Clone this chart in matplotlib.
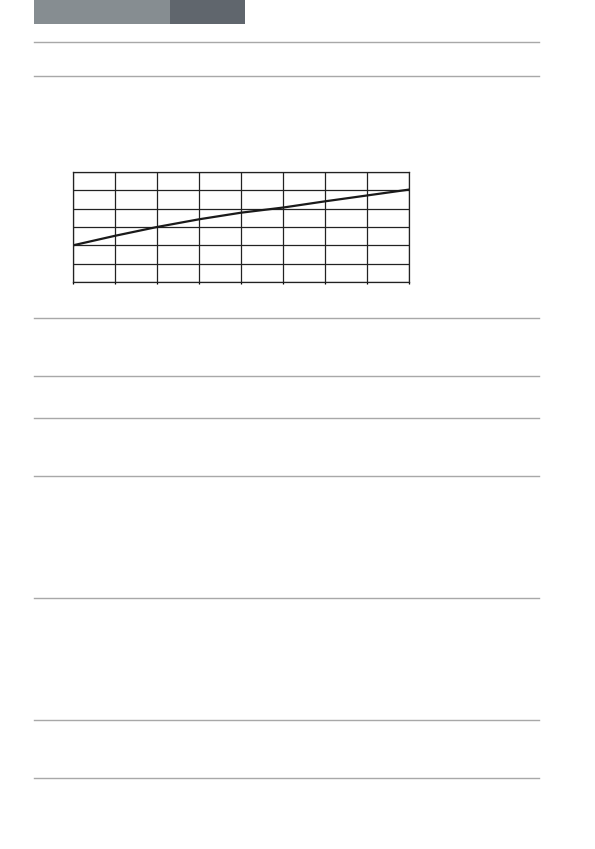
import matplotlib.pyplot as plt
from matplotlib.patches import Rectangle

# page layout (pixel coordinates of the source page, 595 x 849)
W, H = 595, 849
rule_ys = [42, 76, 318, 376, 418, 476, 598, 720, 778]

# curve (x in columns, y in grid rows)
x_vals = [0, 1, 2, 3, 4, 5, 6, 7, 8]
y_vals = [2.0, 2.52, 3.0, 3.42, 3.78, 4.06, 4.4, 4.72, 5.04]
n_cols = 8
n_rows = 6

fig = plt.figure(figsize=(W / 100, H / 100), dpi=100)

# background layer for the page furniture
bg = fig.add_axes([0, 0, 1, 1])
bg.set_xlim(0, W)
bg.set_ylim(H, 0)
bg.axis('off')
bg.add_patch(Rectangle((34, 0), 136, 24, color='#868d91', lw=0))
bg.add_patch(Rectangle((170, 0), 75, 24, color='#60666d', lw=0))
for yy in rule_ys:
    bg.plot([34, 539], [yy, yy], color='#a8a8a8', lw=1.0)

# the chart itself
left, right, top, bottom = 73, 409, 172, 282
ax = fig.add_axes([left / W, 1 - bottom / H, (right - left) / W, (bottom - top) / H])
ax.plot(x_vals, y_vals, color='#1a1a1a', lw=1.6)
ax.set_xlim(0, n_cols)
ax.set_ylim(0, n_rows)
ax.set_xticks(range(n_cols + 1))
ax.set_yticks(range(n_rows + 1))
ax.grid(True, color='#222222', lw=0.9)
ax.tick_params(axis='x', length=1.5, width=0.9, labelbottom=False, direction='out')
ax.tick_params(axis='y', length=0, labelleft=False)
for s in ax.spines.values():
    s.set_color('#222222')
    s.set_linewidth(0.9)

fig.savefig('out.png', dpi=100)
